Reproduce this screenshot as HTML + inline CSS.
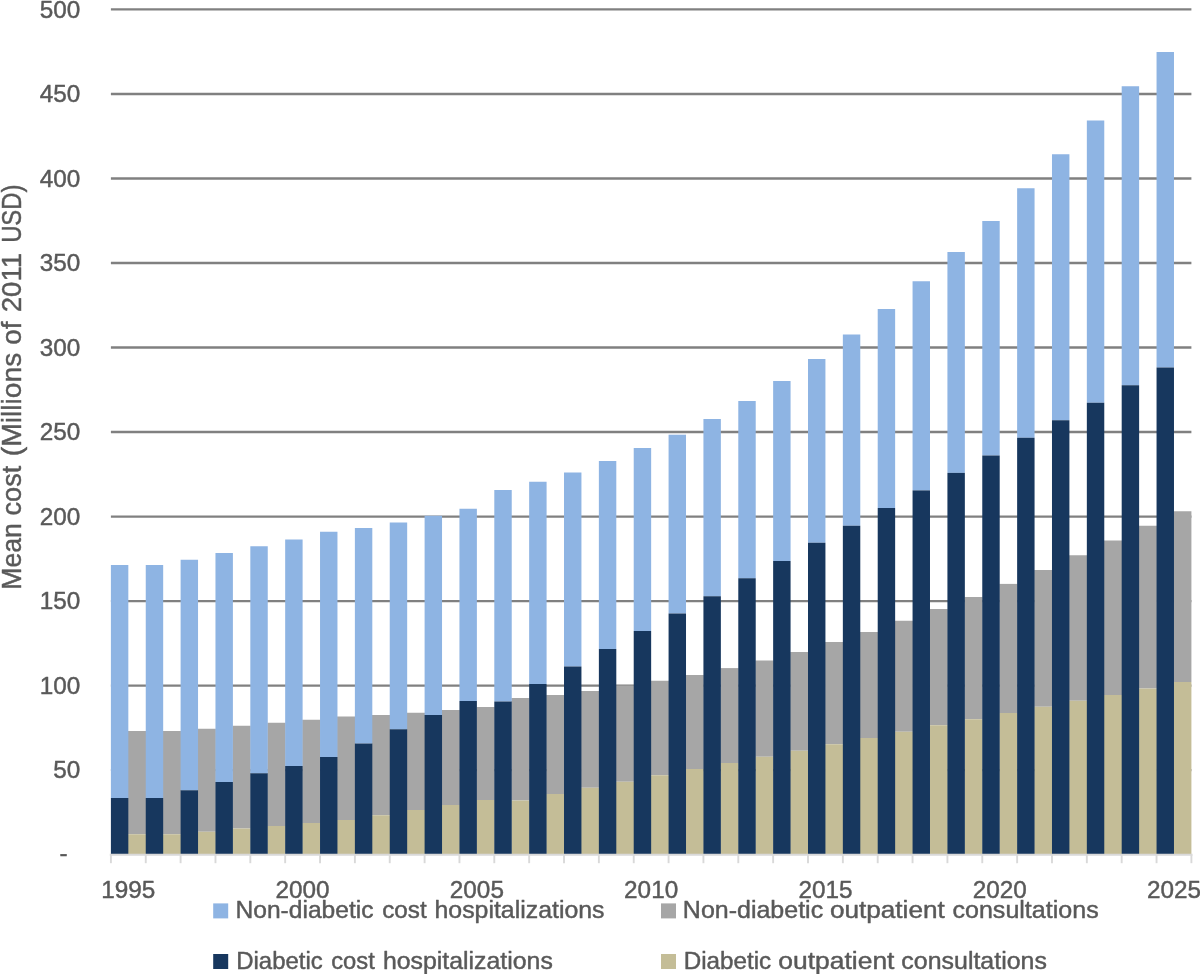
<!DOCTYPE html>
<html lang="en">
<head>
<meta charset="utf-8">
<title>Mean cost chart</title>
<style>
html,body{margin:0;padding:0;background:#fff;}
body{width:1200px;height:974px;overflow:hidden;}
svg{display:block;will-change:transform;}
text{font-family:"Liberation Sans",sans-serif;fill:#595959;stroke:#595959;stroke-width:0.45px;stroke-linejoin:round;}
</style>
</head>
<body>
<svg width="1200" height="974" viewBox="0 0 1200 974">
<rect x="0" y="0" width="1200" height="974" fill="#ffffff"/>
<g stroke="#808080" stroke-width="2.4" shape-rendering="auto">
<line x1="110.90" y1="770.17" x2="1191.40" y2="770.17"/>
<line x1="110.90" y1="685.64" x2="1191.40" y2="685.64"/>
<line x1="110.90" y1="601.11" x2="1191.40" y2="601.11"/>
<line x1="110.90" y1="516.58" x2="1191.40" y2="516.58"/>
<line x1="110.90" y1="432.05" x2="1191.40" y2="432.05"/>
<line x1="110.90" y1="347.52" x2="1191.40" y2="347.52"/>
<line x1="110.90" y1="262.99" x2="1191.40" y2="262.99"/>
<line x1="110.90" y1="178.46" x2="1191.40" y2="178.46"/>
<line x1="110.90" y1="93.93" x2="1191.40" y2="93.93"/>
<line x1="110.90" y1="9.40" x2="1191.40" y2="9.40"/>
</g>
<g fill="#a6a6a6">
<rect x="127.93" y="731.00" width="18.23" height="103.25"/>
<rect x="162.78" y="731.00" width="18.23" height="103.25"/>
<rect x="197.64" y="728.75" width="18.23" height="103.00"/>
<rect x="232.49" y="725.75" width="18.23" height="102.75"/>
<rect x="267.35" y="722.75" width="18.23" height="103.25"/>
<rect x="302.20" y="719.75" width="18.23" height="103.25"/>
<rect x="337.06" y="716.50" width="18.23" height="103.50"/>
<rect x="371.91" y="715.00" width="18.23" height="100.25"/>
<rect x="406.77" y="712.75" width="18.23" height="97.25"/>
<rect x="441.62" y="710.00" width="18.23" height="95.00"/>
<rect x="476.48" y="707.00" width="18.23" height="93.00"/>
<rect x="511.33" y="698.00" width="18.23" height="102.50"/>
<rect x="546.19" y="695.00" width="18.23" height="99.00"/>
<rect x="581.04" y="691.00" width="18.23" height="96.75"/>
<rect x="615.90" y="685.50" width="18.23" height="96.25"/>
<rect x="650.75" y="680.75" width="18.23" height="94.50"/>
<rect x="685.61" y="675.00" width="18.23" height="94.00"/>
<rect x="720.46" y="668.10" width="18.23" height="94.90"/>
<rect x="755.32" y="660.50" width="18.23" height="96.25"/>
<rect x="790.17" y="652.00" width="18.23" height="98.75"/>
<rect x="825.03" y="642.00" width="18.23" height="102.25"/>
<rect x="859.88" y="632.00" width="18.23" height="106.00"/>
<rect x="894.74" y="620.75" width="18.23" height="111.00"/>
<rect x="929.59" y="609.00" width="18.23" height="116.25"/>
<rect x="964.45" y="597.00" width="18.23" height="122.25"/>
<rect x="999.30" y="583.90" width="18.23" height="129.10"/>
<rect x="1034.16" y="570.00" width="18.23" height="136.75"/>
<rect x="1069.01" y="555.25" width="18.23" height="145.50"/>
<rect x="1103.87" y="540.50" width="18.23" height="154.50"/>
<rect x="1138.72" y="525.75" width="18.23" height="162.75"/>
<rect x="1173.58" y="511.25" width="17.83" height="170.75"/>
</g>
<g fill="#c4bd97">
<rect x="127.93" y="834.25" width="18.23" height="20.45"/>
<rect x="162.78" y="834.25" width="18.23" height="20.45"/>
<rect x="197.64" y="831.75" width="18.23" height="22.95"/>
<rect x="232.49" y="828.50" width="18.23" height="26.20"/>
<rect x="267.35" y="826.00" width="18.23" height="28.70"/>
<rect x="302.20" y="823.00" width="18.23" height="31.70"/>
<rect x="337.06" y="820.00" width="18.23" height="34.70"/>
<rect x="371.91" y="815.25" width="18.23" height="39.45"/>
<rect x="406.77" y="810.00" width="18.23" height="44.70"/>
<rect x="441.62" y="805.00" width="18.23" height="49.70"/>
<rect x="476.48" y="800.00" width="18.23" height="54.70"/>
<rect x="511.33" y="800.50" width="18.23" height="54.20"/>
<rect x="546.19" y="794.00" width="18.23" height="60.70"/>
<rect x="581.04" y="787.75" width="18.23" height="66.95"/>
<rect x="615.90" y="781.75" width="18.23" height="72.95"/>
<rect x="650.75" y="775.25" width="18.23" height="79.45"/>
<rect x="685.61" y="769.00" width="18.23" height="85.70"/>
<rect x="720.46" y="763.00" width="18.23" height="91.70"/>
<rect x="755.32" y="756.75" width="18.23" height="97.95"/>
<rect x="790.17" y="750.75" width="18.23" height="103.95"/>
<rect x="825.03" y="744.25" width="18.23" height="110.45"/>
<rect x="859.88" y="738.00" width="18.23" height="116.70"/>
<rect x="894.74" y="731.75" width="18.23" height="122.95"/>
<rect x="929.59" y="725.25" width="18.23" height="129.45"/>
<rect x="964.45" y="719.25" width="18.23" height="135.45"/>
<rect x="999.30" y="713.00" width="18.23" height="141.70"/>
<rect x="1034.16" y="706.75" width="18.23" height="147.95"/>
<rect x="1069.01" y="700.75" width="18.23" height="153.95"/>
<rect x="1103.87" y="695.00" width="18.23" height="159.70"/>
<rect x="1138.72" y="688.50" width="18.23" height="166.20"/>
<rect x="1173.58" y="682.00" width="17.83" height="172.70"/>
</g>
<g fill="#8eb4e3">
<rect x="110.90" y="565.00" width="17.43" height="233.00"/>
<rect x="145.75" y="565.00" width="17.43" height="233.00"/>
<rect x="180.61" y="559.75" width="17.43" height="230.50"/>
<rect x="215.47" y="553.00" width="17.43" height="229.00"/>
<rect x="250.32" y="546.25" width="17.43" height="227.00"/>
<rect x="285.17" y="539.50" width="17.43" height="226.50"/>
<rect x="320.03" y="531.75" width="17.43" height="225.25"/>
<rect x="354.88" y="528.00" width="17.43" height="215.50"/>
<rect x="389.74" y="522.50" width="17.43" height="206.75"/>
<rect x="424.60" y="515.75" width="17.43" height="199.25"/>
<rect x="459.45" y="508.75" width="17.43" height="192.25"/>
<rect x="494.30" y="490.00" width="17.43" height="211.50"/>
<rect x="529.16" y="481.75" width="17.43" height="202.25"/>
<rect x="564.01" y="472.50" width="17.43" height="194.00"/>
<rect x="598.87" y="461.00" width="17.43" height="188.00"/>
<rect x="633.72" y="448.00" width="17.43" height="183.00"/>
<rect x="668.58" y="434.70" width="17.43" height="178.80"/>
<rect x="703.43" y="419.00" width="17.43" height="177.25"/>
<rect x="738.29" y="401.00" width="17.43" height="177.25"/>
<rect x="773.14" y="381.00" width="17.43" height="180.00"/>
<rect x="808.00" y="359.00" width="17.43" height="183.75"/>
<rect x="842.85" y="334.50" width="17.43" height="191.25"/>
<rect x="877.71" y="309.00" width="17.43" height="199.00"/>
<rect x="912.56" y="281.25" width="17.43" height="209.15"/>
<rect x="947.42" y="252.00" width="17.43" height="220.90"/>
<rect x="982.27" y="221.00" width="17.43" height="234.50"/>
<rect x="1017.13" y="188.25" width="17.43" height="249.50"/>
<rect x="1051.98" y="154.25" width="17.43" height="266.00"/>
<rect x="1086.84" y="120.50" width="17.43" height="282.25"/>
<rect x="1121.69" y="86.25" width="17.43" height="299.00"/>
<rect x="1156.55" y="52.00" width="17.43" height="315.50"/>
</g>
<g fill="#17375e">
<rect x="110.90" y="798.00" width="17.43" height="56.70"/>
<rect x="145.75" y="798.00" width="17.43" height="56.70"/>
<rect x="180.61" y="790.25" width="17.43" height="64.45"/>
<rect x="215.47" y="782.00" width="17.43" height="72.70"/>
<rect x="250.32" y="773.25" width="17.43" height="81.45"/>
<rect x="285.17" y="766.00" width="17.43" height="88.70"/>
<rect x="320.03" y="757.00" width="17.43" height="97.70"/>
<rect x="354.88" y="743.50" width="17.43" height="111.20"/>
<rect x="389.74" y="729.25" width="17.43" height="125.45"/>
<rect x="424.60" y="715.00" width="17.43" height="139.70"/>
<rect x="459.45" y="701.00" width="17.43" height="153.70"/>
<rect x="494.30" y="701.50" width="17.43" height="153.20"/>
<rect x="529.16" y="684.00" width="17.43" height="170.70"/>
<rect x="564.01" y="666.50" width="17.43" height="188.20"/>
<rect x="598.87" y="649.00" width="17.43" height="205.70"/>
<rect x="633.72" y="631.00" width="17.43" height="223.70"/>
<rect x="668.58" y="613.50" width="17.43" height="241.20"/>
<rect x="703.43" y="596.25" width="17.43" height="258.45"/>
<rect x="738.29" y="578.25" width="17.43" height="276.45"/>
<rect x="773.14" y="561.00" width="17.43" height="293.70"/>
<rect x="808.00" y="542.75" width="17.43" height="311.95"/>
<rect x="842.85" y="525.75" width="17.43" height="328.95"/>
<rect x="877.71" y="508.00" width="17.43" height="346.70"/>
<rect x="912.56" y="490.40" width="17.43" height="364.30"/>
<rect x="947.42" y="472.90" width="17.43" height="381.80"/>
<rect x="982.27" y="455.50" width="17.43" height="399.20"/>
<rect x="1017.13" y="437.75" width="17.43" height="416.95"/>
<rect x="1051.98" y="420.25" width="17.43" height="434.45"/>
<rect x="1086.84" y="402.75" width="17.43" height="451.95"/>
<rect x="1121.69" y="385.25" width="17.43" height="469.45"/>
<rect x="1156.55" y="367.50" width="17.43" height="487.20"/>
</g>
<g stroke="#d9d9d9" stroke-width="1.9">
<line x1="109.80" y1="854.70" x2="1192.50" y2="854.70"/>
<line x1="110.90" y1="854.70" x2="110.90" y2="863.20"/>
<line x1="145.75" y1="854.70" x2="145.75" y2="863.20"/>
<line x1="180.61" y1="854.70" x2="180.61" y2="863.20"/>
<line x1="215.47" y1="854.70" x2="215.47" y2="863.20"/>
<line x1="250.32" y1="854.70" x2="250.32" y2="863.20"/>
<line x1="285.17" y1="854.70" x2="285.17" y2="863.20"/>
<line x1="320.03" y1="854.70" x2="320.03" y2="863.20"/>
<line x1="354.88" y1="854.70" x2="354.88" y2="863.20"/>
<line x1="389.74" y1="854.70" x2="389.74" y2="863.20"/>
<line x1="424.60" y1="854.70" x2="424.60" y2="863.20"/>
<line x1="459.45" y1="854.70" x2="459.45" y2="863.20"/>
<line x1="494.30" y1="854.70" x2="494.30" y2="863.20"/>
<line x1="529.16" y1="854.70" x2="529.16" y2="863.20"/>
<line x1="564.01" y1="854.70" x2="564.01" y2="863.20"/>
<line x1="598.87" y1="854.70" x2="598.87" y2="863.20"/>
<line x1="633.72" y1="854.70" x2="633.72" y2="863.20"/>
<line x1="668.58" y1="854.70" x2="668.58" y2="863.20"/>
<line x1="703.43" y1="854.70" x2="703.43" y2="863.20"/>
<line x1="738.29" y1="854.70" x2="738.29" y2="863.20"/>
<line x1="773.14" y1="854.70" x2="773.14" y2="863.20"/>
<line x1="808.00" y1="854.70" x2="808.00" y2="863.20"/>
<line x1="842.85" y1="854.70" x2="842.85" y2="863.20"/>
<line x1="877.71" y1="854.70" x2="877.71" y2="863.20"/>
<line x1="912.56" y1="854.70" x2="912.56" y2="863.20"/>
<line x1="947.42" y1="854.70" x2="947.42" y2="863.20"/>
<line x1="982.27" y1="854.70" x2="982.27" y2="863.20"/>
<line x1="1017.13" y1="854.70" x2="1017.13" y2="863.20"/>
<line x1="1051.98" y1="854.70" x2="1051.98" y2="863.20"/>
<line x1="1086.84" y1="854.70" x2="1086.84" y2="863.20"/>
<line x1="1121.69" y1="854.70" x2="1121.69" y2="863.20"/>
<line x1="1156.55" y1="854.70" x2="1156.55" y2="863.20"/>
<line x1="1191.40" y1="854.70" x2="1191.40" y2="863.20"/>
</g>
<g font-size="24.3" text-anchor="end">
<text x="80.3" y="778.37">50</text>
<text x="80.3" y="693.84">100</text>
<text x="80.3" y="609.31">150</text>
<text x="80.3" y="524.78">200</text>
<text x="80.3" y="440.25">250</text>
<text x="80.3" y="355.72">300</text>
<text x="80.3" y="271.19">350</text>
<text x="80.3" y="186.66">400</text>
<text x="80.3" y="102.13">450</text>
<text x="80.3" y="17.60">500</text>
<text x="67.6" y="861.30">-</text>
</g>
<g font-size="24.3" text-anchor="middle">
<text x="128.33" y="897.75">1995</text>
<text x="302.60" y="897.75">2000</text>
<text x="476.88" y="897.75">2005</text>
<text x="651.15" y="897.75">2010</text>
<text x="825.43" y="897.75">2015</text>
<text x="999.70" y="897.75">2020</text>
<text x="1173.98" y="897.75">2025</text>
</g>
<text transform="translate(21.3,600) rotate(-90)" font-size="28.2" y="0"><tspan x="10.24" textLength="66.62" lengthAdjust="spacingAndGlyphs">Mean</tspan> <tspan x="84.46" textLength="49.95" lengthAdjust="spacingAndGlyphs">cost</tspan> <tspan x="143.72" textLength="103.65" lengthAdjust="spacingAndGlyphs">(Millions</tspan> <tspan x="255.34" textLength="23.07" lengthAdjust="spacingAndGlyphs">of</tspan> <tspan x="287.75" textLength="59.39" lengthAdjust="spacingAndGlyphs">2011</tspan> <tspan x="357.13" textLength="58.32" lengthAdjust="spacingAndGlyphs">USD)</tspan></text>
<rect x="213.20" y="903.40" width="15" height="15" fill="#8eb4e3"/>
<text y="918.30" font-size="24.2"><tspan x="235.51" textLength="138.06" lengthAdjust="spacingAndGlyphs">Non-diabetic</tspan> <tspan x="382.22" textLength="44.47" lengthAdjust="spacingAndGlyphs">cost</tspan> <tspan x="434.50" textLength="170.07" lengthAdjust="spacingAndGlyphs">hospitalizations</tspan></text>
<rect x="661.00" y="903.40" width="15" height="15" fill="#a6a6a6"/>
<text y="918.30" font-size="24.2"><tspan x="682.89" textLength="140.28" lengthAdjust="spacingAndGlyphs">Non-diabetic</tspan> <tspan x="829.94" textLength="114.83" lengthAdjust="spacingAndGlyphs">outpatient</tspan> <tspan x="952.49" textLength="146.18" lengthAdjust="spacingAndGlyphs">consultations</tspan></text>
<rect x="213.20" y="954.00" width="15" height="15" fill="#17375e"/>
<text y="968.70" font-size="24.2"><tspan x="236.24" textLength="86.43" lengthAdjust="spacingAndGlyphs">Diabetic</tspan> <tspan x="331.24" textLength="43.56" lengthAdjust="spacingAndGlyphs">cost</tspan> <tspan x="382.90" textLength="169.97" lengthAdjust="spacingAndGlyphs">hospitalizations</tspan></text>
<rect x="661.00" y="954.00" width="15" height="15" fill="#c4bd97"/>
<text y="968.70" font-size="24.2"><tspan x="683.72" textLength="87.44" lengthAdjust="spacingAndGlyphs">Diabetic</tspan> <tspan x="778.33" textLength="116.14" lengthAdjust="spacingAndGlyphs">outpatient</tspan> <tspan x="901.39" textLength="145.48" lengthAdjust="spacingAndGlyphs">consultations</tspan></text>
</svg>
</body>
</html>
